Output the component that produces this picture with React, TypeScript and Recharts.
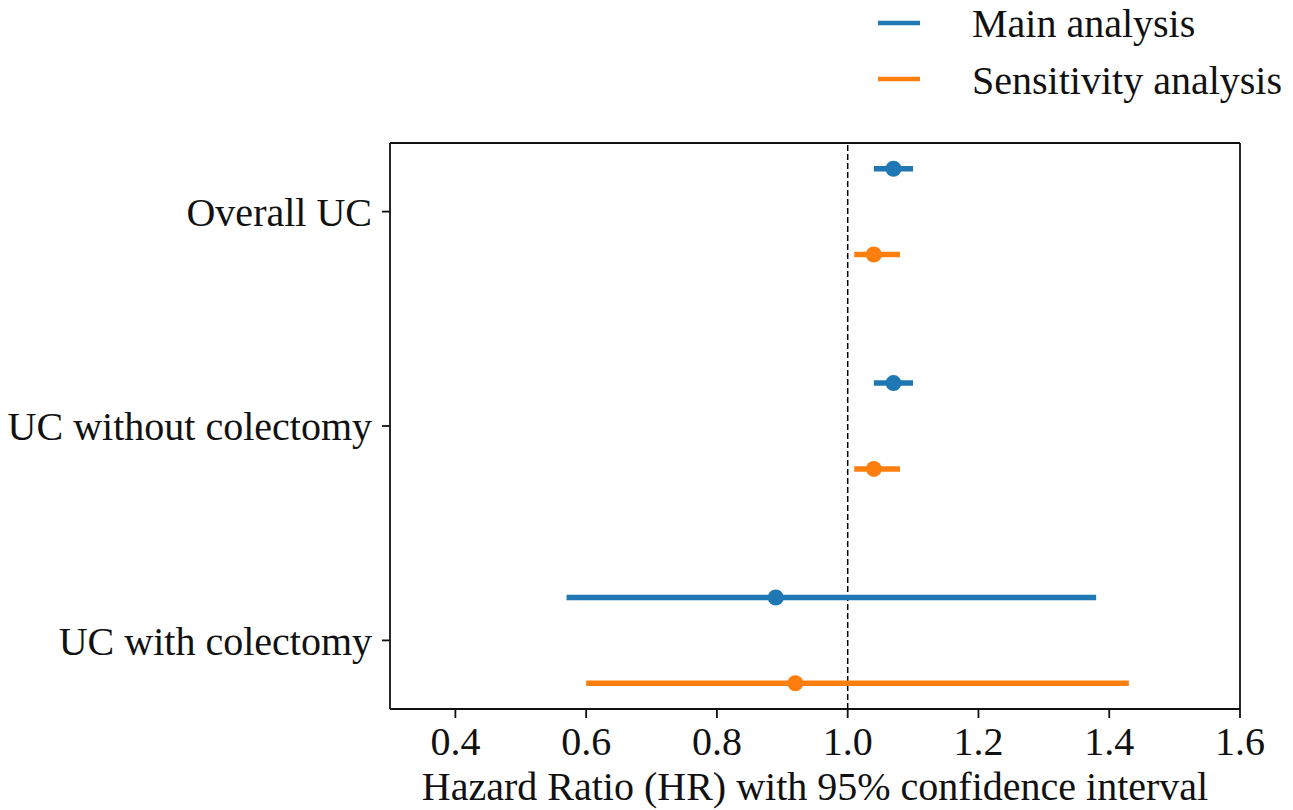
import React from "react";
import {
  ComposedChart,
  Scatter,
  ErrorBar,
  XAxis,
  YAxis,
  ReferenceLine,
  Label
} from "recharts";

const categories = ["Overall UC", "UC without colectomy", "UC with colectomy"];

const mainHR = [1.07, 1.07, 0.89];
const mainLow = [1.04, 1.04, 0.57];
const mainHigh = [1.1, 1.1, 1.38];

const sensHR = [1.04, 1.04, 0.92];
const sensLow = [1.01, 1.01, 0.6];
const sensHigh = [1.08, 1.08, 1.43];

const xTicks = [0.4, 0.6, 0.8, 1.0, 1.2, 1.4, 1.6];
const xDomain = [0.3, 1.6];
const yDomain = [-0.32, 2.32];

const BLUE = "#1f77b4";
const ORANGE = "#ff7f0e";
const INK = "#111";
const FONT = "'Liberation Serif', 'DejaVu Serif', serif";

const build = (hr: number[], low: number[], high: number[], offset: number) =>
  hr.map((v, i) => ({
    x: v,
    y: categories.length - 1 - i + offset,
    err: [v - low[i], high[i] - v]
  }));

const mainData = build(mainHR, mainLow, mainHigh, 0.2);
const sensData = build(sensHR, sensLow, sensHigh, -0.2);

const dot = (color: string) => (props: any) => (
  <circle cx={props.cx} cy={props.cy} r={8} fill={color} />
);

// legend sits above the axes, outside the plot frame
const LegendBox = () => (
  <svg
    width={1293}
    height={110}
    style={{ position: "absolute", left: 0, top: 0, fontFamily: FONT }}
  >
    <line x1={878} x2={920} y1={23} y2={23} stroke={BLUE} strokeWidth={4.5} />
    <text x={972} y={37} fontSize={40} fill={INK}>
      Main analysis
    </text>
    <line x1={878} x2={920} y1={79} y2={79} stroke={ORANGE} strokeWidth={4.5} />
    <text x={972} y={94} fontSize={40} fill={INK}>
      Sensitivity analysis
    </text>
  </svg>
);

export default function App() {
  const tickStyle = { fontSize: 40, fill: INK, fontFamily: FONT };
  return (
    <div
      style={{
        position: "absolute",
        left: 0,
        top: 0,
        width: 1293,
        height: 810,
        background: "#fff"
      }}
    >
      <ComposedChart
        width={1293}
        height={810}
        margin={{ top: 143, right: 53, bottom: 0, left: 0 }}
        style={{ fontFamily: FONT }}
      >
        <XAxis
          type="number"
          dataKey="x"
          domain={xDomain}
          ticks={xTicks}
          allowDataOverflow
          tickFormatter={(v: number) => v.toFixed(1)}
          tick={tickStyle}
          tickSize={9}
          tickMargin={9}
          height={101}
          stroke={INK}
          strokeWidth={1.8}
        >
          <Label
            value="Hazard Ratio (HR) with 95% confidence interval"
            position="insideBottom"
            offset={10}
            style={{ fontSize: 40, fill: INK, fontFamily: FONT }}
          />
        </XAxis>
        <YAxis
          type="number"
          dataKey="y"
          domain={yDomain}
          ticks={[0, 1, 2]}
          allowDataOverflow
          tickFormatter={(v: number) => categories[categories.length - 1 - v]}
          tick={tickStyle}
          tickSize={8}
          tickMargin={10}
          width={390}
          stroke={INK}
          strokeWidth={1.8}
        />
        {/* top and right sides of the frame */}
        <ReferenceLine y={yDomain[1]} stroke={INK} strokeWidth={1.8} />
        <ReferenceLine x={xDomain[1]} stroke={INK} strokeWidth={1.8} />
        <ReferenceLine x={1} stroke="#000" strokeWidth={1.5} strokeDasharray="6 3" />
        <Scatter
          name="Main analysis"
          data={mainData}
          fill={BLUE}
          shape={dot(BLUE)}
          isAnimationActive={false}
        >
          <ErrorBar
            dataKey="err"
            direction="x"
            width={0}
            stroke={BLUE}
            strokeWidth={5.5}
            isAnimationActive={false}
          />
        </Scatter>
        <Scatter
          name="Sensitivity analysis"
          data={sensData}
          fill={ORANGE}
          shape={dot(ORANGE)}
          isAnimationActive={false}
        >
          <ErrorBar
            dataKey="err"
            direction="x"
            width={0}
            stroke={ORANGE}
            strokeWidth={5.5}
            isAnimationActive={false}
          />
        </Scatter>
      </ComposedChart>
      <LegendBox />
    </div>
  );
}
